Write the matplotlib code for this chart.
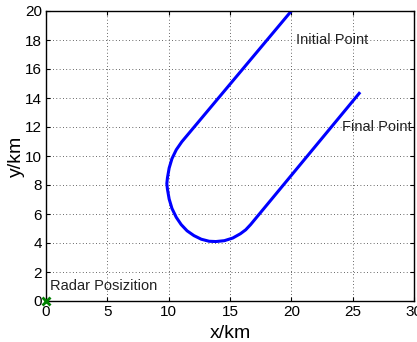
import numpy as np
import matplotlib
matplotlib.use("Agg")
import matplotlib.pyplot as plt

# -------------------------------------------------
# Dados (km)
# -------------------------------------------------
# trajetória: reta inicial, curva e reta final
track_x = [20.00, 11.07, 10.62, 10.27, 10.04, 9.90, 9.85, 9.90, 10.04,
           10.27, 10.62, 11.02, 11.50, 12.06, 12.66, 13.30, 13.85,
           14.54, 15.22, 15.85, 16.28, 16.68, 25.53]
track_y = [20.00, 10.98, 10.43, 9.82, 9.17, 8.49, 8.10, 7.71, 7.03,
           6.38, 5.77, 5.27, 4.84, 4.51, 4.26, 4.12, 4.10,
           4.16, 4.34, 4.64, 4.91, 5.27, 14.32]

radar_x = [0.0]
radar_y = [0.0]

labels = ["Initial Point", "Final Point", "Radar Posizition"]
label_x = [20.4, 24.1, 0.35]
label_y = [18.0, 12.0, 1.05]

xticks = [0, 5, 10, 15, 20, 25, 30]
yticks = [0, 2, 4, 6, 8, 10, 12, 14, 16, 18, 20]

# -------------------------------------------------
# Plot
# -------------------------------------------------
plt.rcParams["font.family"] = ["Liberation Sans", "DejaVu Sans"]

fig = plt.figure(figsize=(4.17, 3.42), dpi=100)
ax = fig.add_axes([46 / 417, 41 / 342, 368 / 417, 290 / 342])

ax.plot(track_x, track_y, color="#0000ff", linewidth=2.2,
        solid_joinstyle="round")
ax.plot(radar_x, radar_y, "x", color="#008000", markersize=6,
        markeredgewidth=2, clip_on=False, zorder=5)

for txt, tx, ty in zip(labels, label_x, label_y):
    ax.text(tx, ty, txt, fontsize=10.5, va="center", ha="left",
            color="#222222")

ax.set_xlim(0, 30)
ax.set_ylim(0, 20)
ax.set_xticks(xticks)
ax.set_yticks(yticks)

ax.set_xlabel("x/km", fontsize=14, labelpad=4)
ax.set_ylabel("y/km", fontsize=14, labelpad=0)

ax.grid(True, color="#444444", linewidth=0.7, dashes=(0.8, 2.6))
ax.tick_params(direction="in", top=True, right=True, length=3,
               width=0.8, labelsize=11, pad=3)
for s in ax.spines.values():
    s.set_linewidth(1.0)

fig.savefig("out.png", dpi=100)
